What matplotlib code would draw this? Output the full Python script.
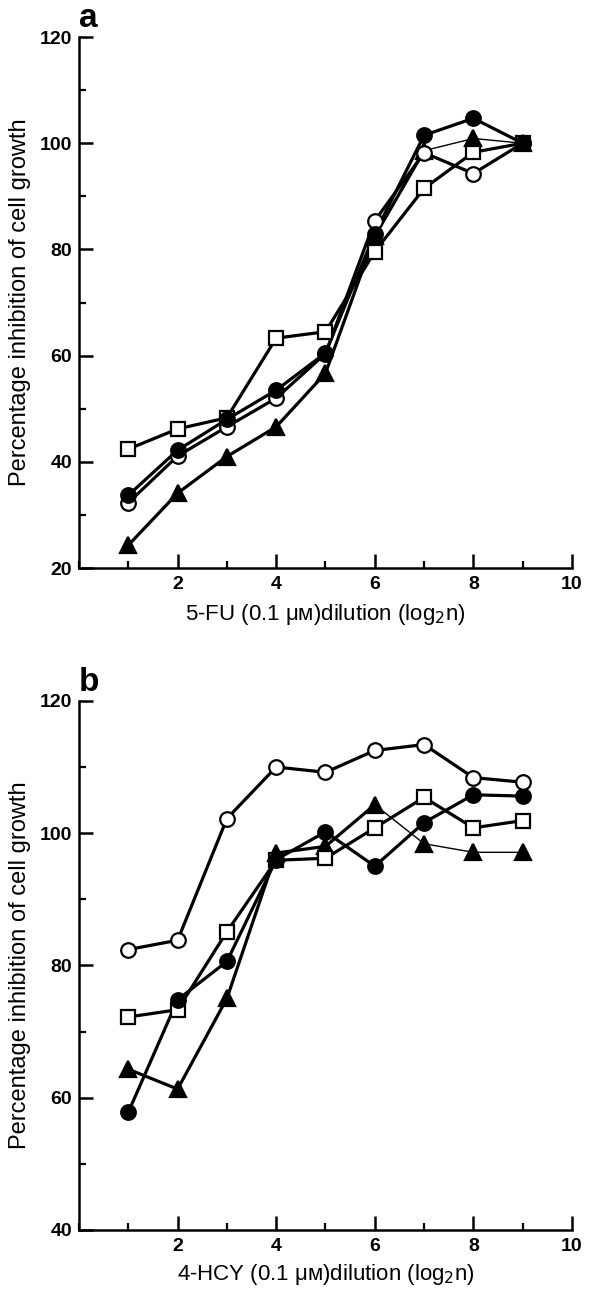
import matplotlib
matplotlib.use("Agg")
import matplotlib.pyplot as plt
from matplotlib.ticker import MultipleLocator

plt.rcParams['font.family'] = ['Liberation Sans', 'DejaVu Sans']

dilution = [1, 2, 3, 4, 5, 6, 7, 8, 9]

# panel a: 5-FU
a_filled_circle = [33.7, 42.2, 48.0, 53.5, 60.5, 83.0, 101.5, 104.7, 100.0]
a_open_circle = [32.3, 41.1, 46.6, 52.0, 60.4, 85.4, 98.2, 94.3, 100.0]
a_open_square = [42.4, 46.2, 48.3, 63.3, 64.5, 79.6, 91.5, 98.3, 100.0]
a_filled_tri = [24.3, 34.1, 41.0, 46.6, 56.7, 82.5, 98.6, 100.9, 100.0]

# panel b: 4-HCY
b_open_circle = [82.4, 83.8, 102.2, 110.0, 109.2, 112.5, 113.4, 108.4, 107.7]
b_filled_circle = [57.8, 74.8, 80.6, 96.0, 100.2, 95.0, 101.6, 105.8, 105.6]
b_open_square = [72.2, 73.3, 85.1, 95.9, 96.2, 100.8, 105.4, 100.8, 101.9]
b_filled_tri = [64.3, 61.3, 75.0, 97.0, 98.0, 104.3, 98.4, 97.1, 97.1]

x_ticks = [2, 4, 6, 8, 10]
a_yticks = [20, 40, 60, 80, 100, 120]
b_yticks = [40, 60, 80, 100, 120]

ylabel = "Percentage inhibition of cell growth"
xlabels = ["5-FU (0.1 \u03bc\u1d0d)dilution (log$_2$n)",
           "4-HCY (0.1 \u03bc\u1d0d)dilution (log$_2$n)"]

fig = plt.figure(figsize=(5.95, 12.91), dpi=100)
ax_a = fig.add_axes([0.1328, 0.560, 0.8285, 0.4113])
ax_b = fig.add_axes([0.1328, 0.0473, 0.8285, 0.4098])

lw = 2.3
thin = 1.0
ms = 10.5


def series(ax, y, marker, filled, thin_from=None):
    fc = 'black' if filled else 'white'
    size = ms + 1 if marker == '^' else (ms - 0.5 if marker == 's' else ms)
    if thin_from is None:
        ax.plot(dilution, y, '-', color='black', lw=lw, zorder=2)
    else:
        k = thin_from - 1
        ax.plot(dilution[:k + 1], y[:k + 1], '-', color='black', lw=lw, zorder=2)
        ax.plot(dilution[k:], y[k:], '-', color='black', lw=thin, zorder=2)
    ax.plot(dilution, y, linestyle='none', marker=marker, ms=size,
            mfc=fc, mec='black', mew=1.6, zorder=3)


series(ax_a, a_open_square, 's', False)
series(ax_a, a_filled_tri, '^', True, thin_from=7)
series(ax_a, a_open_circle, 'o', False)
series(ax_a, a_filled_circle, 'o', True)

series(ax_b, b_filled_tri, '^', True, thin_from=6)
series(ax_b, b_open_square, 's', False)
series(ax_b, b_filled_circle, 'o', True)
series(ax_b, b_open_circle, 'o', False)

for ax, yt, xl, tag, xly in [(ax_a, a_yticks, xlabels[0], 'a', -0.087),
                             (ax_b, b_yticks, xlabels[1], 'b', -0.084)]:
    ax.set_xlim(0, 10)
    ax.set_ylim(yt[0], yt[-1])
    ax.set_xticks(x_ticks, [str(t) for t in x_ticks],
                  fontsize=14, fontweight='bold')
    ax.set_yticks(yt, [str(t) for t in yt], fontsize=14, fontweight='bold')
    ax.xaxis.set_minor_locator(MultipleLocator(1))
    ax.yaxis.set_minor_locator(MultipleLocator(10))
    ax.spines['top'].set_visible(False)
    ax.spines['right'].set_visible(False)
    ax.spines['left'].set_linewidth(1.8)
    ax.spines['bottom'].set_linewidth(1.8)
    ax.tick_params(which='major', direction='in', length=10, width=1.8, pad=5)
    ax.tick_params(axis='x', which='major', pad=6)
    ax.tick_params(which='minor', direction='in', length=5, width=1.6)
    ax.set_xlabel(xl, fontsize=16, va='center')
    ax.xaxis.set_label_coords(0.5, xly)
    ax.set_ylabel(ylabel, fontsize=17, va='center')
    ax.yaxis.set_label_coords(-0.12, 0.5)
    ax.text(0.0, 1.019, tag, transform=ax.transAxes, fontsize=24,
            fontweight='bold', ha='left', va='baseline')
    for ln in ax.lines:
        ln.set_clip_on(False)

fig.savefig("out.png", dpi=100)
